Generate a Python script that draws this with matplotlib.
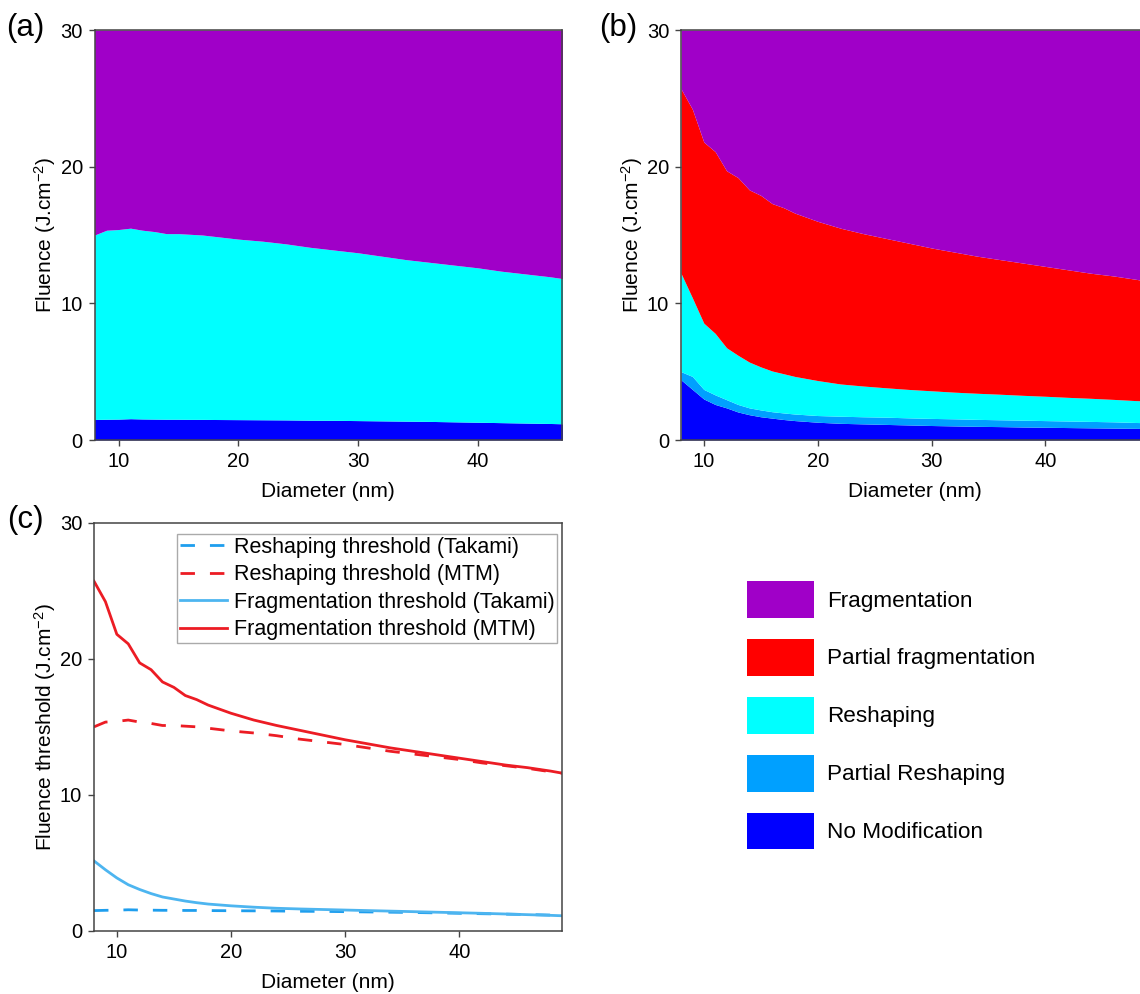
import matplotlib
matplotlib.use("Agg")
import matplotlib.pyplot as plt
from matplotlib.patches import Patch

plt.rcParams["font.family"] = ["Liberation Sans", "DejaVu Sans"]
plt.rcParams["mathtext.default"] = "regular"

# diameters (nm) at which the thresholds were read
diameter = [8, 9, 10, 11, 12, 13, 14, 15, 16, 17, 18, 20, 22, 24, 26, 28,
            30, 32, 34, 36, 38, 40, 42, 44, 46, 48, 49]

# threshold curves (J.cm-2), shared by panels (a) and (c)
reshape_takami = [1.50, 1.52, 1.53, 1.56, 1.54, 1.53, 1.52, 1.52, 1.51, 1.51, 1.50, 1.49, 1.48,
                  1.47, 1.45, 1.44, 1.42, 1.40, 1.38, 1.36, 1.33, 1.30, 1.27, 1.24, 1.21, 1.17, 1.15]
reshape_mtm = [15.0, 15.35, 15.4, 15.5, 15.35, 15.25, 15.1, 15.1, 15.05, 15.0, 14.9, 14.7, 14.55,
               14.35, 14.1, 13.9, 13.7, 13.45, 13.2, 13.0, 12.8, 12.6, 12.35, 12.15, 11.95, 11.7, 11.6]
frag_takami = [5.15, 4.5, 3.9, 3.4, 3.05, 2.75, 2.5, 2.35, 2.2, 2.08, 1.98, 1.85, 1.75,
               1.67, 1.62, 1.58, 1.54, 1.5, 1.46, 1.42, 1.38, 1.34, 1.3, 1.25, 1.2, 1.15, 1.12]
frag_mtm = [25.7, 24.2, 21.8, 21.1, 19.7, 19.2, 18.3, 17.9, 17.3, 17.0, 16.6, 16.0, 15.5,
            15.1, 14.75, 14.4, 14.05, 13.75, 13.45, 13.2, 12.95, 12.7, 12.45, 12.2, 12.0, 11.75, 11.6]

# panel (b) region boundaries (J.cm-2)
b_nomod_top = [4.4, 3.7, 3.0, 2.6, 2.35, 2.05, 1.85, 1.7, 1.6, 1.5, 1.42, 1.3, 1.22,
               1.18, 1.14, 1.1, 1.06, 1.03, 1.0, 0.98, 0.95, 0.93, 0.91, 0.89, 0.87, 0.85, 0.84]
b_partial_top = [5.0, 4.65, 3.7, 3.3, 2.95, 2.6, 2.35, 2.2, 2.07, 1.98, 1.9, 1.79, 1.74,
                 1.7, 1.67, 1.62, 1.58, 1.55, 1.51, 1.48, 1.45, 1.42, 1.39, 1.36, 1.33, 1.28, 1.26]
b_reshape_top = [12.2, 10.4, 8.55, 7.8, 6.75, 6.2, 5.7, 5.35, 5.05, 4.85, 4.65, 4.35, 4.1,
                 3.95, 3.82, 3.7, 3.6, 3.5, 3.42, 3.35, 3.27, 3.2, 3.12, 3.05, 2.97, 2.88, 2.85]
b_partfrag_top = frag_mtm

region_labels = ["Fragmentation", "Partial fragmentation", "Reshaping",
                 "Partial Reshaping", "No Modification"]
region_colors = ["#A000C8", "#FF0000", "#00FFFF", "#00A0FF", "#0000FF"]
C_FRAG, C_PFRAG, C_RESH, C_PRESH, C_NOMOD = region_colors

BLUE_DASH = "#1E9EEE"
BLUE_SOLID = "#4DB5F0"
RED = "#EC1C24"
SPINE = "#444444"
W, H = 1140, 994
YMAX = 30


def px_axes(fig, left, top, right, bottom):
    return fig.add_axes([left / W, 1 - bottom / H, (right - left) / W, (bottom - top) / H])


def style(ax, ylabel, xmax):
    ax.set_xlim(8, xmax)
    ax.set_ylim(0, YMAX)
    ax.set_xticks([10, 20, 30, 40])
    ax.set_yticks([0, 10, 20, 30])
    ax.tick_params(direction="out", length=4.5, width=1, pad=4, labelsize=14.5,
                   color=SPINE, top=False, right=False)
    for s in ax.spines.values():
        s.set_color(SPINE)
        s.set_linewidth(1.1)
        s.set_zorder(5)
    ax.set_xlabel("Diameter (nm)", fontsize=15, labelpad=8)
    ax.set_ylabel(ylabel, fontsize=15, labelpad=1.5)


def fill(ax, lo, hi, color):
    ax.fill_between(diameter, lo, hi, color=color, linewidth=0, antialiased=True)


fig = plt.figure(figsize=(W / 100, H / 100), dpi=100)

# (a)
ax_a = px_axes(fig, 94.6, 30, 562, 440)
fill(ax_a, 0, reshape_takami, C_NOMOD)
fill(ax_a, reshape_takami, reshape_mtm, C_RESH)
fill(ax_a, reshape_mtm, YMAX, C_FRAG)
style(ax_a, "Fluence (J.cm$^{-2}$)", 47.05)

# (b) - right edge runs past the canvas, as in the original figure
ax_b = px_axes(fig, 681, 30, 681 + 467, 440)
fill(ax_b, 0, b_nomod_top, C_NOMOD)
fill(ax_b, b_nomod_top, b_partial_top, C_PRESH)
fill(ax_b, b_partial_top, b_reshape_top, C_RESH)
fill(ax_b, b_reshape_top, b_partfrag_top, C_PFRAG)
fill(ax_b, b_partfrag_top, YMAX, C_FRAG)
style(ax_b, "Fluence (J.cm$^{-2}$)", 49)

# (c)
ax_c = px_axes(fig, 94, 522.7, 562, 931)
dash = (5.2, 5.4)
ax_c.plot(diameter, reshape_takami, color=BLUE_DASH, lw=2, ls=(0, dash),
          label="Reshaping threshold (Takami)")
ax_c.plot(diameter, reshape_mtm, color=RED, lw=2, ls=(0, dash),
          label="Reshaping threshold (MTM)")
ax_c.plot(diameter, frag_takami, color=BLUE_SOLID, lw=2,
          label="Fragmentation threshold (Takami)")
ax_c.plot(diameter, frag_mtm, color=RED, lw=2,
          label="Fragmentation threshold (MTM)")
style(ax_c, "Fluence threshold (J.cm$^{-2}$)", 49)
leg = ax_c.legend(loc="upper right", bbox_to_anchor=(0.989, 0.9716), borderaxespad=0,
                  fontsize=15.5, frameon=True, fancybox=False, edgecolor="#AAAAAA",
                  framealpha=1, borderpad=0.12, handlelength=2.2, handletextpad=0.3,
                  labelspacing=0.3)
leg.get_frame().set_linewidth(1)

# shared region legend
handles = [Patch(facecolor=c, edgecolor="none") for c in region_colors]
fig.legend(handles, region_labels, loc="upper left",
           bbox_to_anchor=(747 / W, 1 - 581 / H), borderaxespad=0, borderpad=0,
           frameon=False, fontsize=16.2, handlelength=2.98, handleheight=2.15,
           labelspacing=0.93, handletextpad=0.58)

# panel letters
for txt, x, y in [("(a)", 6, 28), ("(b)", 599, 28), ("(c)", 7, 520)]:
    fig.text(x / W, 1 - y / H, txt, fontsize=22.5, ha="left", va="center")

fig.savefig("out.png", dpi=100)
